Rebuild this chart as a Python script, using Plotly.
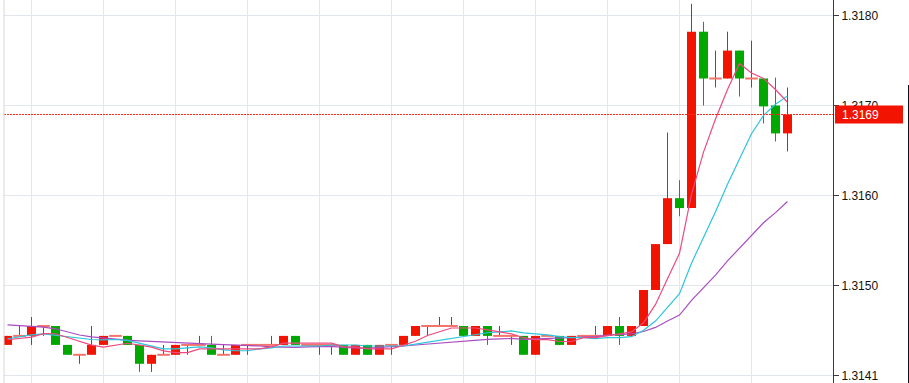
import plotly.graph_objects as go

# ---------------- data ----------------
open_ = [1.31434, 1.31444, 1.31444, 1.31455, 1.31455, 1.31434, 1.31423, 1.31423, 1.31434, 1.31444,
         1.31444, 1.31434, 1.31413, 1.31423, 1.31423, 1.31434, 1.31434, 1.31434, 1.31423, 1.31423,
         1.31434, 1.31434, 1.31434, 1.31434, 1.31444, 1.31434, 1.31434, 1.31434, 1.31434, 1.31423,
         1.31434, 1.31423, 1.31434, 1.31434, 1.31444, 1.31455, 1.31455, 1.31455, 1.31455, 1.31444,
         1.31455, 1.31444, 1.31444, 1.31444, 1.31423, 1.31444, 1.31444, 1.31434, 1.31444, 1.31444,
         1.31444, 1.31455, 1.31444, 1.31455, 1.31495, 1.31546, 1.31597, 1.31586, 1.31782, 1.31730,
         1.31730, 1.31761, 1.31730, 1.31730, 1.31700, 1.31669]
high = [1.31444, 1.31455, 1.31465, 1.31455, 1.31455, 1.31434, 1.31423, 1.31455, 1.31444, 1.31444,
        1.31444, 1.31434, 1.31423, 1.31434, 1.31434, 1.31434, 1.31444, 1.31444, 1.31434, 1.31434,
        1.31434, 1.31434, 1.31444, 1.31444, 1.31444, 1.31434, 1.31434, 1.31434, 1.31434, 1.31434,
        1.31434, 1.31434, 1.31434, 1.31444, 1.31455, 1.31455, 1.31465, 1.31465, 1.31455, 1.31455,
        1.31455, 1.31455, 1.31444, 1.31444, 1.31444, 1.31444, 1.31444, 1.31444, 1.31444, 1.31455,
        1.31455, 1.31465, 1.31455, 1.31495, 1.31546, 1.31670, 1.31617, 1.31813, 1.31793, 1.31761,
        1.31782, 1.31761, 1.31772, 1.31730, 1.31731, 1.31720]
low = [1.31434, 1.31444, 1.31434, 1.31444, 1.31434, 1.31423, 1.31413, 1.31423, 1.31434, 1.31444,
       1.31434, 1.31404, 1.31404, 1.31423, 1.31423, 1.31423, 1.31434, 1.31423, 1.31423, 1.31423,
       1.31423, 1.31434, 1.31434, 1.31434, 1.31434, 1.31434, 1.31423, 1.31423, 1.31423, 1.31423,
       1.31423, 1.31423, 1.31423, 1.31434, 1.31444, 1.31444, 1.31455, 1.31455, 1.31444, 1.31444,
       1.31434, 1.31444, 1.31434, 1.31423, 1.31423, 1.31444, 1.31434, 1.31434, 1.31444, 1.31444,
       1.31444, 1.31434, 1.31444, 1.31455, 1.31495, 1.31546, 1.31577, 1.31586, 1.31700, 1.31720,
       1.31730, 1.31710, 1.31720, 1.31680, 1.31660, 1.31649]
close = [1.31444, 1.31444, 1.31455, 1.31455, 1.31434, 1.31423, 1.31423, 1.31434, 1.31444, 1.31444,
         1.31434, 1.31413, 1.31423, 1.31423, 1.31434, 1.31434, 1.31434, 1.31423, 1.31423, 1.31434,
         1.31434, 1.31434, 1.31434, 1.31444, 1.31434, 1.31434, 1.31434, 1.31434, 1.31423, 1.31434,
         1.31423, 1.31434, 1.31434, 1.31444, 1.31455, 1.31455, 1.31455, 1.31455, 1.31444, 1.31455,
         1.31444, 1.31444, 1.31444, 1.31423, 1.31444, 1.31444, 1.31434, 1.31444, 1.31444, 1.31444,
         1.31455, 1.31444, 1.31455, 1.31495, 1.31546, 1.31597, 1.31586, 1.31782, 1.31730, 1.31730,
         1.31761, 1.31730, 1.31730, 1.31699, 1.31669, 1.31690]

ma5 = [1.314397, 1.314408, 1.314426, 1.314466, 1.314464, 1.314422, 1.314380, 1.314338, 1.314316, 1.314336,
       1.314358, 1.314338, 1.314316, 1.314274, 1.314254, 1.314254, 1.314296, 1.314296, 1.314296, 1.314296,
       1.314296, 1.314296, 1.314318, 1.314360, 1.314360, 1.314360, 1.314360, 1.314360, 1.314318, 1.314318,
       1.314296, 1.314296, 1.314296, 1.314338, 1.314380, 1.314444, 1.314486, 1.314528, 1.314528, 1.314528,
       1.314506, 1.314484, 1.314462, 1.314420, 1.314398, 1.314398, 1.314378, 1.314378, 1.314420, 1.314420,
       1.314442, 1.314462, 1.314484, 1.314586, 1.314790, 1.315074, 1.315358, 1.316012, 1.316482, 1.316850,
       1.317178, 1.317466, 1.317362, 1.317300, 1.317178, 1.317036]
ma10 = [1.314408, 1.314430, 1.314452, 1.314463, 1.314448, 1.314430, 1.314414, 1.314400, 1.314395, 1.314400,
        1.314390, 1.314359, 1.314327, 1.314295, 1.314295, 1.314306, 1.314317, 1.314306, 1.314285, 1.314275,
        1.314275, 1.314296, 1.314307, 1.314328, 1.314328, 1.314328, 1.314328, 1.314339, 1.314339, 1.314339,
        1.314328, 1.314328, 1.314328, 1.314328, 1.314349, 1.314370, 1.314391, 1.314412, 1.314433, 1.314454,
        1.314475, 1.314485, 1.314495, 1.314474, 1.314463, 1.314452, 1.314431, 1.314420, 1.314420, 1.314409,
        1.314420, 1.314420, 1.314431, 1.314503, 1.314605, 1.314758, 1.314910, 1.315248, 1.315534, 1.315820,
        1.316126, 1.316412, 1.316687, 1.316891, 1.317014, 1.317107]
ma20 = [1.314563, 1.314555, 1.314548, 1.314537, 1.314519, 1.314485, 1.314450, 1.314430, 1.314415, 1.314403,
        1.314393, 1.314385, 1.314380, 1.314376, 1.314365, 1.314360, 1.314355, 1.314348, 1.314342, 1.314338,
        1.314333, 1.314328, 1.314317, 1.314312, 1.314312, 1.314317, 1.314323, 1.314323, 1.314312, 1.314307,
        1.314302, 1.314312, 1.314318, 1.314328, 1.314339, 1.314349, 1.314360, 1.314376, 1.314386, 1.314397,
        1.314402, 1.314407, 1.314412, 1.314401, 1.314406, 1.314411, 1.314411, 1.314416, 1.314427, 1.314432,
        1.314448, 1.314453, 1.314463, 1.314489, 1.314534, 1.314605, 1.314671, 1.314834, 1.314977, 1.315115,
        1.315273, 1.315416, 1.315559, 1.315697, 1.315810, 1.315933]

y_tick_vals = [1.3140, 1.3150, 1.3160, 1.3170, 1.3180]
y_tick_text = ["1.3141", "1.3150", "1.3160", "1.3170", "1.3180"]
last_price = 1.3169
last_label = "1.3169"

# ---------------- styling ----------------
UP = "#f21300"
DOWN = "#00a800"
DOJI = "#f4736a"
GRID = "#e2e7ee"
FONT = "Liberation Sans"

n = len(close)
idx = list(range(n))
up = [i for i in idx if close[i] > open_[i]]
down = [i for i in idx if close[i] < open_[i]]
doji = [i for i in idx if close[i] == open_[i]]

fig = go.Figure()


def wick_trace(sel, color):
    xs, ys = [], []
    for i in sel:
        xs += [i, i, None]
        ys += [low[i], high[i], None]
    return go.Scatter(x=xs, y=ys, mode="lines", line=dict(color=color, width=1),
                      hoverinfo="skip", showlegend=False)


fig.add_trace(wick_trace(up + doji, UP))
fig.add_trace(wick_trace(down, DOWN))

fig.add_trace(go.Bar(x=up, y=[close[i] - open_[i] for i in up], base=[open_[i] for i in up],
                     width=0.75, marker=dict(color=UP, line=dict(width=0)), showlegend=False))
fig.add_trace(go.Bar(x=down, y=[open_[i] - close[i] for i in down], base=[close[i] for i in down],
                     width=0.75, marker=dict(color=DOWN, line=dict(width=0)), showlegend=False))
fig.add_trace(go.Scatter(x=doji, y=[close[i] for i in doji], mode="markers",
                         marker=dict(symbol="line-ew", size=9, line=dict(color=DOJI, width=2)),
                         showlegend=False))

fig.add_trace(go.Scatter(x=idx, y=ma20, mode="lines", line=dict(color="#aa4cc2", width=1.2),
                         showlegend=False))
fig.add_trace(go.Scatter(x=idx, y=ma10, mode="lines", line=dict(color="#2cc6dc", width=1.2),
                         showlegend=False))
fig.add_trace(go.Scatter(x=idx, y=ma5, mode="lines", line=dict(color="#ef4a7e", width=1.2),
                         showlegend=False))

W, H = 909, 383
ML, MR = 4, 76
PW = W - ML - MR
px_per_unit = 90000.0
y_top = 1.3180 + 15.5 / px_per_unit
y_bot = y_top - H / px_per_unit
x_left = -3.5 / 12.0

shapes = [
    # current-price dotted line
    dict(type="line", xref="paper", yref="y", x0=0, x1=1, y0=last_price, y1=last_price,
         line=dict(color="#ff2a1a", width=1, dash="2px,1px"), layer="above"),
    # price box
    dict(type="rect", xref="paper", yref="y", x0=(835 - ML) / PW, x1=(903 - ML) / PW,
         y0=last_price - 0.0001, y1=last_price + 0.0001,
         fillcolor=UP, line=dict(width=0), layer="above"),
    # left border
    dict(type="line", xref="paper", yref="paper", x0=0, x1=0, y0=0, y1=1,
         line=dict(color="#d6d6d6", width=1), layer="above"),
    # far right panel edge
    dict(type="line", xref="paper", yref="paper", x0=(908.5 - ML) / PW, x1=(908.5 - ML) / PW,
         y0=0, y1=1 - 85 / H, line=dict(color="#101018", width=1), layer="above"),
]

fig.update_layout(
    width=W, height=H,
    margin=dict(l=ML, r=MR, t=0, b=0, pad=0),
    paper_bgcolor="white", plot_bgcolor="white",
    showlegend=False, barmode="overlay",
    shapes=shapes,
    annotations=[dict(x=(840 - ML) / PW, xref="paper", xanchor="left", y=last_price, yref="y",
                      yanchor="middle", text=last_label, showarrow=False,
                      font=dict(family=FONT, size=12, color="white"))],
    font=dict(family=FONT),
)
fig.update_xaxes(range=[x_left, x_left + PW / 12.0], tickvals=list(range(2, 63, 6)),
                 showticklabels=False, showgrid=True, gridcolor=GRID, gridwidth=1,
                 zeroline=False, showline=False, ticks="")
fig.update_yaxes(side="right", range=[y_bot, y_top], tickvals=y_tick_vals, ticktext=y_tick_text,
                 showgrid=True, gridcolor=GRID, gridwidth=1, zeroline=False,
                 showline=True, linecolor="#3a3a3a", linewidth=1,
                 ticks="outside", ticklen=5, tickcolor="#3a3a3a", tickwidth=1,
                 tickfont=dict(family=FONT, size=12, color="#111111"))

fig.write_html("out.html", config={"displayModeBar": False},
               post_script="document.body.style.margin='0px';")
